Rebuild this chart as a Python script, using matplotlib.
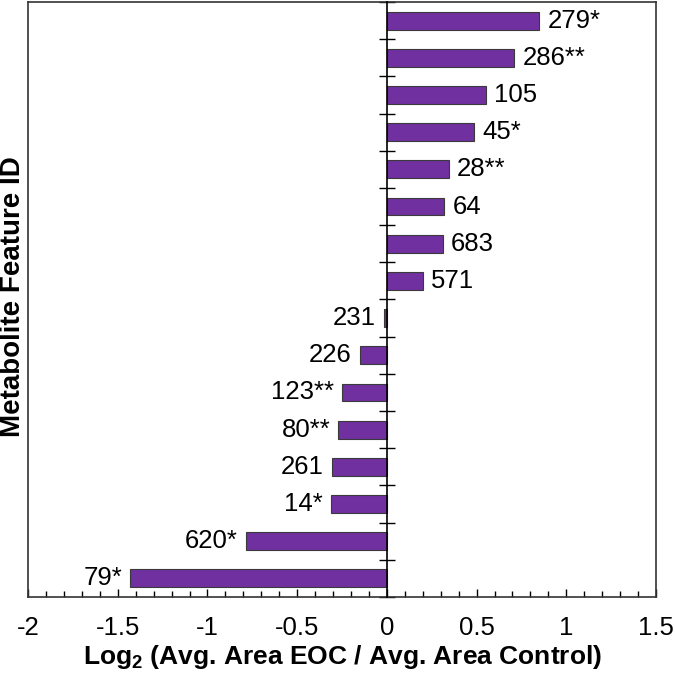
import numpy as np
import matplotlib.pyplot as plt
from matplotlib.ticker import MultipleLocator

plt.rcParams['font.family'] = ['Liberation Sans', 'DejaVu Sans']
plt.rcParams['mathtext.fontset'] = 'custom'
plt.rcParams['mathtext.rm'] = 'Liberation Sans:bold'
plt.rcParams['mathtext.bf'] = 'Liberation Sans:bold'

# Data, top to bottom as shown
labels = ['279*', '286**', '105', '45*', '28**', '64', '683', '571',
          '231', '226', '123**', '80**', '261', '14*', '620*', '79*']
log2_ratio = [0.85, 0.71, 0.55, 0.485, 0.345, 0.32, 0.31, 0.20,
              -0.015, -0.15, -0.25, -0.27, -0.305, -0.31, -0.785, -1.43]
xticks = [-2, -1.5, -1, -0.5, 0, 0.5, 1, 1.5]
xticklabels = ['-2', '-1.5', '-1', '-0.5', '0', '0.5', '1', '1.5']

BAR_COLOR = '#7030A0'

fig = plt.figure(figsize=(6.75, 6.75), dpi=100)
ax = fig.add_axes([0.0415, 0.1156, 0.9304, 0.8814])

pos = np.arange(len(labels))
ax.barh(pos, log2_ratio, height=0.48, color=BAR_COLOR,
        edgecolor='#3a3a3a', linewidth=0.8, zorder=2)

# value labels beside bars
for y, v, lab in zip(pos, log2_ratio, labels):
    if v >= 0:
        ax.text(v + 0.045, y, lab, ha='left', va='center', fontsize=18.5)
    else:
        ax.text(v - 0.045, y, lab, ha='right', va='center', fontsize=18.5)

ax.set_xlim(-2, 1.5)
ax.set_ylim(len(labels) - 0.5, -0.5)

# x axis ticks
ax.set_xticks(xticks)
ax.set_xticklabels(xticklabels)
ax.xaxis.set_minor_locator(MultipleLocator(0.1))
ax.tick_params(axis='x', which='major', direction='in', length=6, width=1,
               labelsize=18.5, pad=14)
ax.tick_params(axis='x', which='minor', direction='in', length=4.5, width=1)

# y axis sits on the zero line, ticks between categories
ax.spines['left'].set_position(('data', 0))
ax.set_yticks(np.arange(len(labels) + 1) - 0.5)
ax.tick_params(axis='y', direction='inout', length=11, width=1, labelleft=False)
ax.axvline(-2, color='#333333', linewidth=1.2, clip_on=False)

for s in ['top', 'right', 'bottom']:
    ax.spines[s].set_color('#333333')
    ax.spines[s].set_linewidth(1.2)
ax.spines['left'].set_color('black')
ax.spines['left'].set_linewidth(1.2)
ax.spines['left'].set_zorder(3)

ax.set_xlabel(r'Log$_\mathbf{2}$ (Avg. Area EOC / Avg. Area Control)',
              fontsize=19, fontweight='bold', labelpad=2)
fig.text(0.019, 0.56, 'Metabolite Feature ID', rotation=90, ha='center',
         va='center', fontsize=20, fontweight='bold')

fig.savefig('out.png', dpi=100)
